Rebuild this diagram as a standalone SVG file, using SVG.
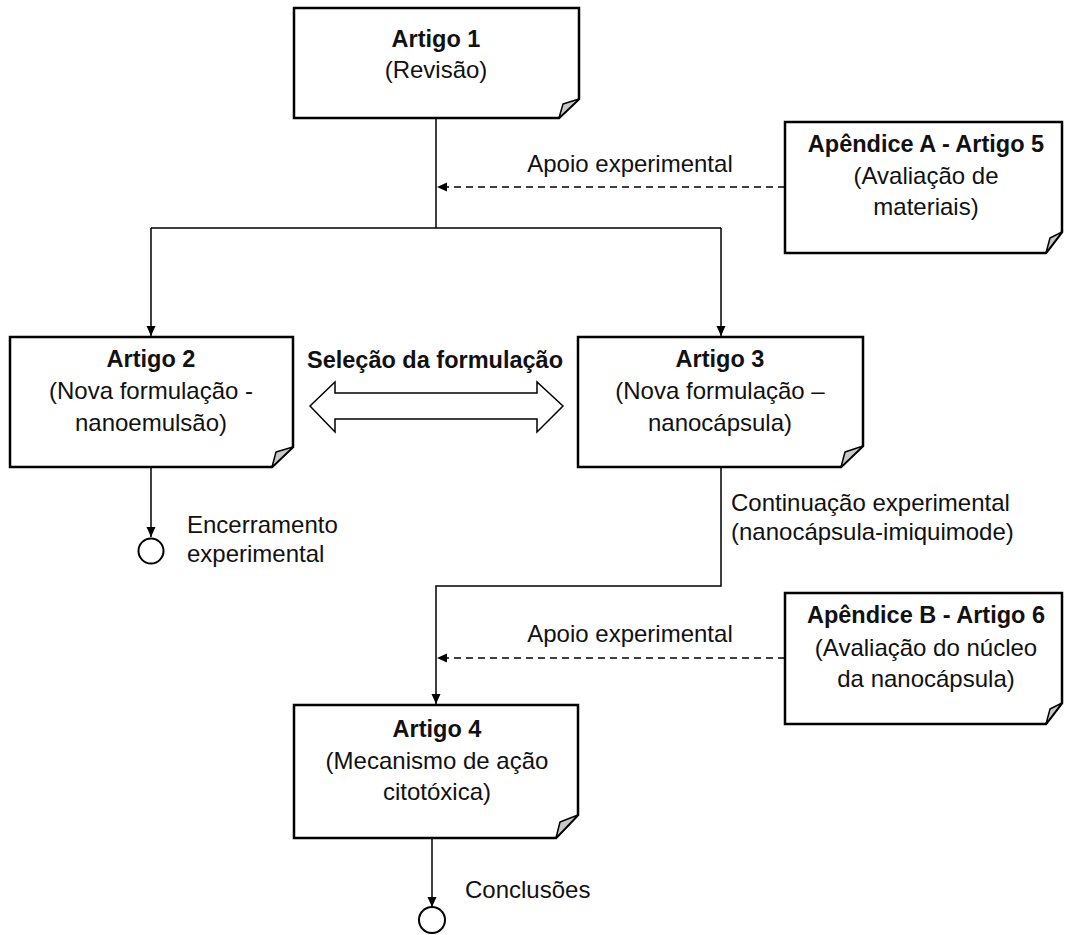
<svg xmlns="http://www.w3.org/2000/svg" width="1065" height="935" viewBox="0 0 1065 935">
<style>
.box{fill:#fff;stroke:#000;stroke-width:2.5;stroke-linejoin:miter}
.fold{fill:#c8c8c8;stroke:#000;stroke-width:1.5;stroke-linejoin:round}
.t{font-family:"Liberation Sans",Arial,sans-serif;font-size:24px;fill:#111;text-anchor:middle}
.b{font-weight:bold;font-size:23.5px}
.l{font-family:"Liberation Sans",Arial,sans-serif;font-size:24px;fill:#111}
.c{fill:none;stroke:#000;stroke-width:1.5}
.d{fill:none;stroke:#000;stroke-width:1.5;stroke-dasharray:7 5}
.end{fill:#fff;stroke:#000;stroke-width:2}
</style>
<defs>
<marker id="ah" viewBox="0 0 10 10" refX="10" refY="5" markerWidth="10" markerHeight="10" markerUnits="userSpaceOnUse" orient="auto">
<path d="M0,0.5 L10,5 L0,9.5 Z" fill="#000"/>
</marker>
</defs>
<rect width="1065" height="935" fill="#fff"/>
<g id="connectors">
<path class="c" d="M436,118 V228"/>
<path class="c" d="M151,228 H721"/>
<path class="c" d="M151,228 V336" marker-end="url(#ah)"/>
<path class="c" d="M721,228 V336" marker-end="url(#ah)"/>
<path class="d" d="M785,187 H437" marker-end="url(#ah)"/>
<path class="c" d="M151,467 V537" marker-end="url(#ah)"/>
<path class="c" d="M721,467 V586 H436 V704" marker-end="url(#ah)"/>
<path class="d" d="M785,658 H437" marker-end="url(#ah)"/>
<path class="c" d="M432,836 V907" marker-end="url(#ah)"/>
<polygon points="310,406 335,382 335,393 537,393 537,382 563,406 537,432 537,419 335,419 335,432" fill="#fff" stroke="#000" stroke-width="1.5"/>
</g>
<g id="n1">
<path class="box" d="M294,8 H579 V99 L559,118 H294 Z"/>
<polygon class="fold" points="559,118 563,104 579,99"/>
<text class="t b" x="436" y="47">Artigo 1</text>
<text class="t" x="436" y="78">(Revisão)</text>
</g>
<g id="nA">
<path class="box" d="M785,122 H1062 V232 L1046,253 H785 Z"/>
<polygon class="fold" points="1046,253 1050,238 1062,232"/>
<text class="t b" x="926" y="152">Apêndice A - Artigo 5</text>
<text class="t" x="926" y="184">(Avaliação de</text>
<text class="t" x="926" y="215">materiais)</text>
</g>
<g id="n2">
<path class="box" d="M10,337 H293 V447 L272,467 H10 Z"/>
<polygon class="fold" points="272,467 276,452 293,447"/>
<text class="t b" x="151" y="367">Artigo 2</text>
<text class="t" x="151" y="399">(Nova formulação -</text>
<text class="t" x="151" y="431">nanoemulsão)</text>
</g>
<g id="sel">
<text class="t b" x="435" y="368">Seleção da formulação</text>
</g>
<g id="n3">
<path class="box" d="M578,337 H863 V446 L841,467 H578 Z"/>
<polygon class="fold" points="841,467 845,452 863,446"/>
<text class="t b" x="720" y="367">Artigo 3</text>
<text class="t" x="720" y="399">(Nova formulação –</text>
<text class="t" x="720" y="431">nanocápsula)</text>
</g>
<g id="end1">
<circle class="end" cx="151" cy="551" r="12.5"/>
<text class="l" x="187" y="533">Encerramento</text>
<text class="l" x="187" y="562">experimental</text>
</g>
<g id="labels">
<text class="t" x="630" y="172">Apoio experimental</text>
<text class="l" x="731" y="511">Continuação experimental</text>
<text class="l" x="731" y="540">(nanocápsula-imiquimode)</text>
<text class="t" x="630" y="642">Apoio experimental</text>
</g>
<g id="nB">
<path class="box" d="M785,593 H1062 V703 L1046,724 H785 Z"/>
<polygon class="fold" points="1046,724 1050,709 1062,703"/>
<text class="t b" x="926" y="623">Apêndice B - Artigo 6</text>
<text class="t" x="926" y="656">(Avaliação do núcleo</text>
<text class="t" x="926" y="687">da nanocápsula)</text>
</g>
<g id="n4">
<path class="box" d="M294,705 H578 V815 L556,838 H294 Z"/>
<polygon class="fold" points="556,838 560,822 578,815"/>
<text class="t b" x="437" y="737">Artigo 4</text>
<text class="t" x="437" y="769">(Mecanismo de ação</text>
<text class="t" x="437" y="800">citotóxica)</text>
</g>
<g id="end2">
<circle class="end" cx="432" cy="920" r="13"/>
<text class="l" x="465" y="898">Conclusões</text>
</g>
</svg>
